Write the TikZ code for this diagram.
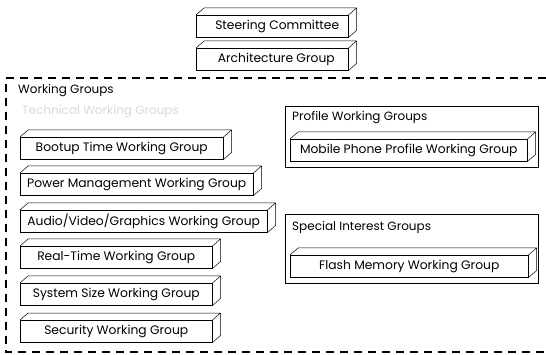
\documentclass[tikz,border=0pt]{standalone}
\usepackage{fontspec}
\setmainfont{Poppins}
\usetikzlibrary{calc,positioning}

\begin{document}
\begin{tikzpicture}[x=1pt,y=-1pt,
   slab/.style={draw=black,line width=0.5pt,fill=white,anchor=north west,inner sep=0pt,minimum height=22pt,font=\fontsize{12.3}{14}\selectfont},
   face/.style={draw=black,line width=0.5pt,line join=round},
   grp/.style={draw=black,line width=0.7pt,anchor=north west,inner sep=0pt},
   title/.style={anchor=west,inner sep=0pt,font=\fontsize{12}{14}\selectfont}]
\useasboundingbox (0,0) rectangle (546,355);
% committee and architecture
\node (sc)  [slab,minimum width=152pt] at (196,15) {\hspace{10pt}Steering Committee};
\node (ag)  [slab,minimum width=152pt] at (196,48) {\hspace{8pt}Architecture Group};
% working groups area
\draw[line width=1.6pt,dash pattern=on 8pt off 6pt] (560,78) -- (6,78) -- (6,352) -- (560,352);
\node (wgt) [title] at (18,91) {Working Groups};
\node (twg) [title,text=black!15] at (22,112) {Technical Working Groups};
\node (boot)  [slab,minimum width=203pt] at (20,137) {Bootup Time Working Group};
\node (power) [slab,minimum width=233pt] at (20,173) {Power Management Working Group};
\node (avg)   [slab,minimum width=247pt] at (20,210) {Audio/Video/Graphics Working Group};
\node (rt)    [slab,minimum width=192pt] at (20,246) {Real-Time Working Group};
\node (size)  [slab,minimum width=192pt] at (20,283) {System Size Working Group};
\node (sec)   [slab,minimum width=192pt] at (20,320) {Security Working Group};
% profile groups
\node (pwg) [grp,minimum width=253pt,minimum height=61pt] at (285,106) {};
\node (pwgt) [title] at (292,118) {Profile Working Groups};
\node (mobile) [slab,minimum width=237pt] at (290,139) {Mobile Phone Profile Working Group};
% special interest groups
\node (sig) [grp,minimum width=253pt,minimum height=69pt] at (285,214) {};
\node (sigt) [title] at (292,227) {Special Interest Groups};
\node (flash) [slab,minimum width=238pt] at (290,255) {Flash Memory Working Group};
% top and side faces
\foreach \n in {sc,ag,boot,power,avg,rt,size,sec,mobile,flash}
  \draw[face] (\n.north west) -- ++(8,-7) -- ($(\n.north east)+(8,-7)$) -- ($(\n.south east)+(8,-7)$) -- (\n.south east)
              (\n.north east) -- ++(8,-7);
\end{tikzpicture}
\end{document}
